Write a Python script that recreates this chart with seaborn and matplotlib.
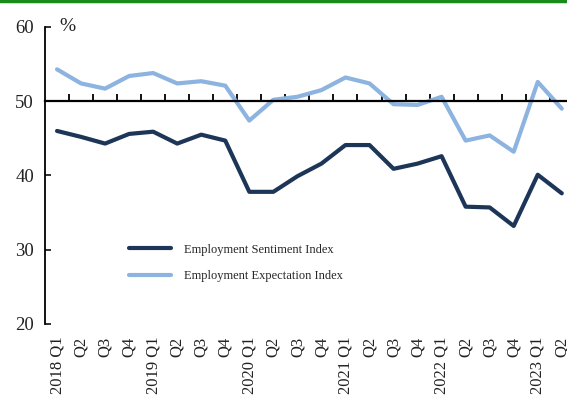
import numpy as np
import pandas as pd
import seaborn as sns
import matplotlib.pyplot as plt
from matplotlib.lines import Line2D

# quarter labels on the x axis
quarters = ['2018 Q1', 'Q2', 'Q3', 'Q4',
            '2019 Q1', 'Q2', 'Q3', 'Q4',
            '2020 Q1', 'Q2', 'Q3', 'Q4',
            '2021 Q1', 'Q2', 'Q3', 'Q4',
            '2022 Q1', 'Q2', 'Q3', 'Q4',
            '2023 Q1', 'Q2']

# index values (%)
sentiment = [46.0, 45.2, 44.3, 45.6, 45.9, 44.3, 45.5, 44.7, 37.8, 37.8, 39.9,
             41.6, 44.1, 44.1, 40.9, 41.6, 42.6, 35.8, 35.7, 33.2, 40.1, 37.6]
expectation = [54.3, 52.4, 51.7, 53.4, 53.8, 52.4, 52.7, 52.1, 47.4, 50.2, 50.6,
               51.5, 53.2, 52.4, 49.6, 49.5, 50.6, 44.7, 45.4, 43.2, 52.6, 49.0]

series_names = ['Employment Sentiment Index', 'Employment Expectation Index']
series_colors = ['#1d3658', '#8db3e0']

sns.set_style('white')
plt.rcParams['font.family'] = ['Liberation Serif', 'DejaVu Serif']

df = pd.DataFrame({
    'pos': list(range(len(quarters))) * 2,
    'value': sentiment + expectation,
    'series': [series_names[0]] * len(quarters) + [series_names[1]] * len(quarters),
})

fig = plt.figure(figsize=(5.67, 4.01), dpi=100)
ax = fig.add_axes([45 / 567, 1 - 324 / 401, (573.8 - 45) / 567, (324 - 27) / 401])

sns.lineplot(data=df, x='pos', y='value', hue='series', hue_order=series_names,
             palette=dict(zip(series_names, series_colors)), linewidth=3,
             ax=ax, legend=True)

ax.set_xlim(-0.5, len(quarters) - 0.5)
ax.set_ylim(20, 60)
ax.set_xlabel('')
ax.set_ylabel('')

# y axis
ax.set_yticks([20, 30, 40, 50, 60])
ax.tick_params(axis='y', direction='in', length=4, width=1.3, labelsize=13.5, pad=8,
               left=True, colors='#222222')
ax.spines['left'].set_linewidth(1.3)
ax.spines['left'].set_color('black')
ax.spines['top'].set_visible(False)
ax.spines['right'].set_visible(False)

# the 50 line works as category axis with boundary ticks
ax.spines['bottom'].set_position(('data', 50))
ax.spines['bottom'].set_linewidth(1.6)
ax.spines['bottom'].set_color('black')
ax.set_xticks(np.arange(0.5, len(quarters) - 0.5, 1))
ax.set_xticklabels([])
ax.tick_params(axis='x', direction='in', length=5, width=1.3, bottom=True, colors='black')

# quarter labels at the bottom
sec = ax.secondary_xaxis('bottom')
sec.set_xticks(range(len(quarters)))
sec.set_xticklabels(quarters, rotation=90, fontsize=12, color='#222222')
sec.tick_params(length=0, pad=9)
sec.spines['bottom'].set_visible(False)

ax.text(0.028, 1.0, '%', transform=ax.transAxes, fontsize=14, ha='left', va='center',
        color='#222222')

handles, labels = ax.get_legend_handles_labels()
ax.legend(handles, labels, loc='upper left', bbox_to_anchor=(0.137, 0.308), frameon=False,
          fontsize=9, handlelength=3.35, handletextpad=1.05, labelspacing=1.15)

# green rule along the top edge
fig.add_artist(Line2D([0, 1], [0.997, 0.997], transform=fig.transFigure,
                      color='#1a8a1a', linewidth=2.5))

fig.savefig('out.png', dpi=100)
